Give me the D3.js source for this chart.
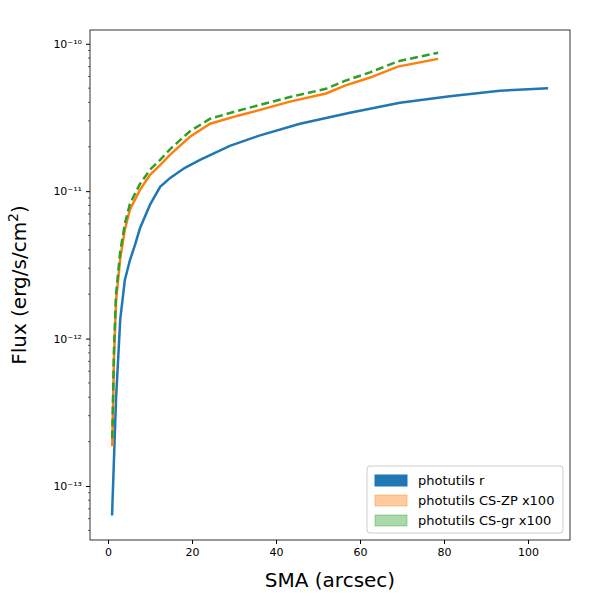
<!DOCTYPE html>
<html lang="en">
<head>
<meta charset="UTF-8">
<style>
  body { margin: 0; background: #fff; font-family: "DejaVu Sans", sans-serif; }
</style>
</head>
<body>
<svg id="chart" width="600" height="600"></svg>
<script src="https://d3js.org/d3.v7.min.js"></script>
<script>
    // SMA (arcsec) vs flux
    const blue = [[0.95,6.3e-14],[1.9,3.9e-13],[2.9,1.35e-12],[4.0,2.5e-12],[5.2,3.4e-12],[6.4,4.3e-12],
        [7.6,5.6e-12],[10,8.1e-12],[12.4,1.07e-11],[14.8,1.23e-11],[18.3,1.44e-11],[21.9,1.63e-11],
        [29,2.03e-11],[36,2.38e-11],[45.7,2.87e-11],[57.6,3.4e-11],[69.5,3.98e-11],[81.4,4.4e-11],
        [93.3,4.8e-11],[104.8,5.0e-11]];
    const orange = [[1,1.86e-13],[1.4,7.2e-13],[1.9,1.8e-12],[2.9,3.5e-12],[4.0,5.5e-12],[5.2,7.5e-12],
        [7.6,1.02e-11],[10,1.29e-11],[12.4,1.5e-11],[14.8,1.77e-11],[19.5,2.34e-11],[24.3,2.87e-11],
        [30.7,3.24e-11],[36.2,3.56e-11],[43.3,4.05e-11],[51.9,4.6e-11],[56.4,5.2e-11],[62.4,5.9e-11],
        [69,7.0e-11],[78.6,7.9e-11]];
    const green = [[1,2.1e-13],[1.4,8.2e-13],[1.9,2.0e-12],[2.9,3.9e-12],[4.0,6.0e-12],[5.2,8.2e-12],
        [7.6,1.12e-11],[10,1.4e-11],[12.4,1.63e-11],[14.8,1.93e-11],[19.5,2.55e-11],[24.3,3.1e-11],
        [30.7,3.5e-11],[36.2,3.85e-11],[43.3,4.35e-11],[51.9,4.95e-11],[56.4,5.6e-11],[62.4,6.4e-11],
        [69,7.6e-11],[78.6,8.7e-11]];

    const svg = d3.select("#chart");
    const mLeft = 90, mRight = 570, mTop = 30, mBottom = 540;

    const x = d3.scaleLinear().domain([-4.3, 110]).range([mLeft, mRight]);
    const y = d3.scaleLog().domain([4.3e-14, 1.24e-10]).range([mBottom, mTop]);

    const fmtSup = n => ({"-10":"⁻¹⁰","-11":"⁻¹¹","-12":"⁻¹²","-13":"⁻¹³"})[n];

    // x axis
    const gx = svg.append("g").attr("transform", `translate(0,${mBottom})`)
        .call(d3.axisBottom(x).tickValues([0,20,40,60,80,100]).tickSize(4).tickPadding(4));
    gx.selectAll("text").attr("font-size", 11).attr("font-family", "DejaVu Sans");

    // y axis, major decades plus minor ticks
    const major = [1e-13, 1e-12, 1e-11, 1e-10];
    const minor = [];
    for (let e = -14; e <= -11; e++) for (let k = 2; k <= 9; k++) {
        const v = k * Math.pow(10, e);
        if (v > 4.3e-14 && v < 1.24e-10) minor.push(v);
    }
    const gy = svg.append("g").attr("transform", `translate(${mLeft},0)`)
        .call(d3.axisLeft(y).tickValues(major).tickSize(4).tickPadding(4).tickFormat(d => ""));
    gy.selectAll(".tick").append("text")
        .attr("x", -8).attr("dy", "0.32em").attr("text-anchor", "end")
        .attr("font-size", 11).attr("font-family", "DejaVu Sans").attr("fill", "#000")
        .text(d => "10" + fmtSup(String(Math.round(Math.log10(d)))));
    svg.append("g").selectAll("line").data(minor).join("line")
        .attr("x1", mLeft - 2).attr("x2", mLeft).attr("y1", d => y(d)).attr("y2", d => y(d))
        .attr("stroke", "#000").attr("stroke-width", 0.6);
    svg.selectAll(".domain").remove();

    const line = d3.line().x(d => x(d[0])).y(d => y(d[1]));
    svg.append("path").datum(blue).attr("d", line).attr("fill", "none").attr("stroke", "#1f77b4").attr("stroke-width", 2.5);
    svg.append("path").datum(orange).attr("d", line).attr("fill", "none").attr("stroke", "#ff7f0e").attr("stroke-width", 2.5);
    svg.append("path").datum(green).attr("d", line).attr("fill", "none").attr("stroke", "#2ca02c").attr("stroke-width", 2.5)
        .attr("stroke-dasharray", "8,4");

    svg.append("rect").attr("x", mLeft).attr("y", mTop).attr("width", mRight - mLeft).attr("height", mBottom - mTop)
        .attr("fill", "none").attr("stroke", "#000").attr("stroke-width", 0.8);

    // axis labels
    svg.append("text").attr("x", (mLeft + mRight) / 2).attr("y", 587).attr("text-anchor", "middle")
        .attr("font-size", 20).text("SMA (arcsec)");
    const yl = svg.append("text").attr("transform", `translate(26,${(mTop + mBottom) / 2}) rotate(-90)`)
        .attr("text-anchor", "middle").attr("font-size", 20);
    yl.append("tspan").text("Flux (erg/s/cm");
    yl.append("tspan").attr("font-size", 14).attr("dy", -8).text("2");
    yl.append("tspan").attr("dy", 8).text(")");

    // legend
    const items = [
        {label: "photutils r", fill: "#1f77b4", op: 1},
        {label: "photutils CS-ZP x100", fill: "#ff7f0e", op: 0.4},
        {label: "photutils CS-gr x100", fill: "#2ca02c", op: 0.4}
    ];
    const lg = svg.append("g").attr("transform", "translate(367,466)");
    lg.append("rect").attr("width", 196).attr("height", 67).attr("rx", 3)
        .attr("fill", "#fff").attr("fill-opacity", 0.8).attr("stroke", "#ccc");
    const it = lg.selectAll("g").data(items).join("g").attr("transform", (d, i) => `translate(8,${9 + i * 20})`);
    it.append("rect").attr("width", 32).attr("height", 11).attr("fill", d => d.fill).attr("fill-opacity", d => d.op)
        .attr("stroke", d => d.fill).attr("stroke-opacity", d => d.op);
    it.append("text").attr("x", 43).attr("y", 10).attr("font-size", 13).text(d => d.label);
</script>
</body>
</html>
